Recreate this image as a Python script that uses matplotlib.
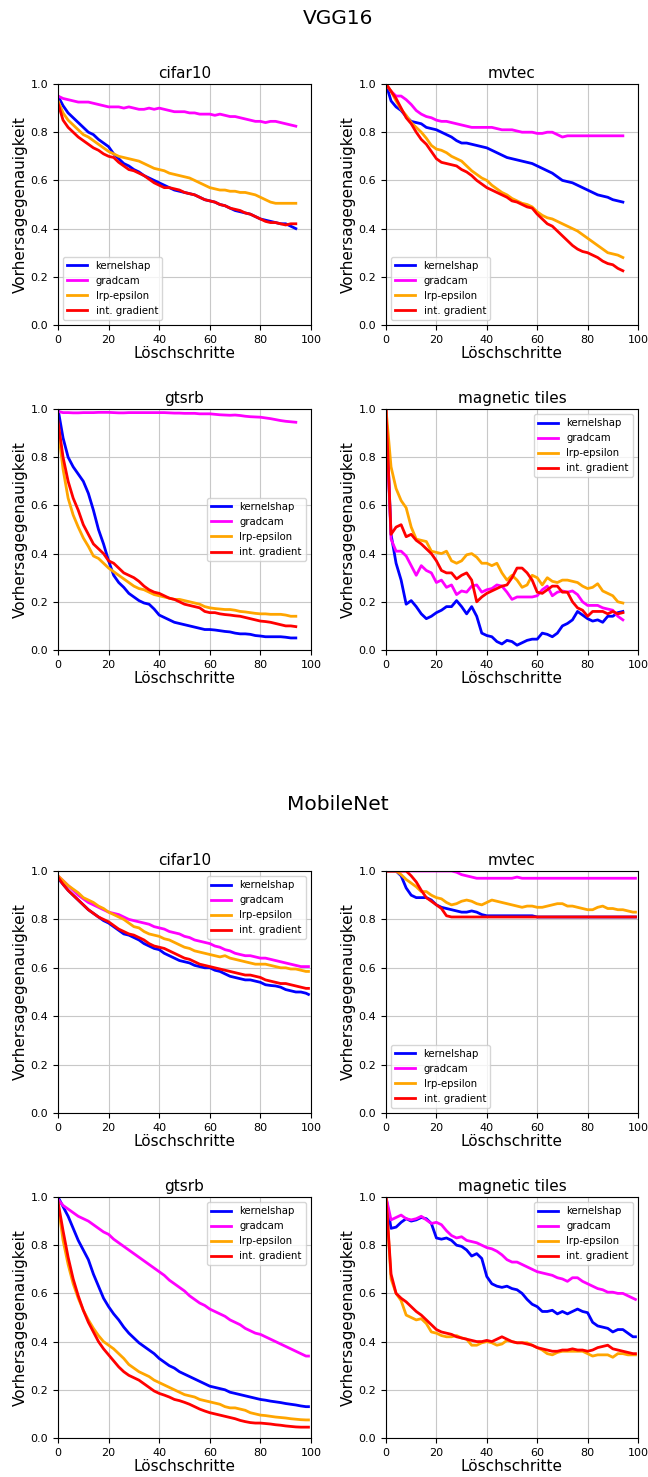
import numpy as np
import matplotlib
matplotlib.use("Agg")
import matplotlib.pyplot as plt

# Löschschritte (every 2nd step)
steps_vgg = list(range(0, 95, 2))
steps_mob = list(range(0, 99, 2)) + [99]

methods = ['kernelshap', 'gradcam', 'lrp-epsilon', 'int. gradient']
colors = ['blue', 'magenta', 'orange', 'red']

# ---------------- VGG16 ----------------
vgg_cifar10_kernelshap = [0.95, 0.91, 0.88, 0.86, 0.84, 0.82, 0.80, 0.79, 0.77, 0.755, 0.74, 0.71, 0.69, 0.67, 0.66, 0.645,
                          0.635, 0.62, 0.61, 0.60, 0.59, 0.58, 0.57, 0.56, 0.555, 0.55, 0.545, 0.54, 0.53, 0.52, 0.515, 0.51,
                          0.50, 0.495, 0.485, 0.475, 0.47, 0.465, 0.46, 0.45, 0.44, 0.435, 0.43, 0.425, 0.42, 0.42, 0.41, 0.40]
vgg_cifar10_gradcam = [0.95, 0.94, 0.935, 0.93, 0.925, 0.925, 0.925, 0.92, 0.915, 0.91, 0.905, 0.905, 0.905, 0.90, 0.905, 0.90,
                       0.895, 0.895, 0.90, 0.895, 0.90, 0.895, 0.89, 0.885, 0.885, 0.885, 0.88, 0.88, 0.875, 0.875, 0.875, 0.87,
                       0.875, 0.87, 0.865, 0.865, 0.86, 0.855, 0.85, 0.845, 0.845, 0.84, 0.845, 0.845, 0.84, 0.835, 0.83, 0.825]
vgg_cifar10_lrp = [0.93, 0.88, 0.85, 0.83, 0.81, 0.79, 0.78, 0.765, 0.75, 0.735, 0.72, 0.71, 0.70, 0.695, 0.69, 0.685,
                   0.68, 0.67, 0.66, 0.65, 0.645, 0.64, 0.63, 0.625, 0.62, 0.615, 0.61, 0.60, 0.59, 0.58, 0.57, 0.565,
                   0.56, 0.56, 0.555, 0.555, 0.55, 0.55, 0.545, 0.54, 0.53, 0.52, 0.51, 0.505, 0.505, 0.505, 0.505, 0.505]
vgg_cifar10_intgrad = [0.92, 0.85, 0.82, 0.80, 0.78, 0.765, 0.75, 0.735, 0.725, 0.71, 0.70, 0.695, 0.675, 0.66, 0.645, 0.64,
                       0.63, 0.62, 0.605, 0.59, 0.58, 0.57, 0.57, 0.565, 0.56, 0.55, 0.545, 0.54, 0.53, 0.52, 0.515, 0.51,
                       0.50, 0.495, 0.485, 0.48, 0.475, 0.465, 0.46, 0.45, 0.44, 0.43, 0.425, 0.425, 0.42, 0.415, 0.42, 0.42]

vgg_mvtec_kernelshap = [1.0, 0.93, 0.905, 0.89, 0.865, 0.845, 0.84, 0.835, 0.82, 0.815, 0.81, 0.80, 0.79, 0.78, 0.765, 0.755,
                        0.755, 0.75, 0.745, 0.74, 0.735, 0.725, 0.715, 0.705, 0.695, 0.69, 0.685, 0.68, 0.675, 0.67, 0.66, 0.65,
                        0.64, 0.63, 0.615, 0.60, 0.595, 0.59, 0.58, 0.57, 0.56, 0.55, 0.54, 0.535, 0.53, 0.52, 0.515, 0.51]
vgg_mvtec_gradcam = [1.0, 0.97, 0.95, 0.95, 0.935, 0.915, 0.89, 0.875, 0.865, 0.86, 0.85, 0.845, 0.845, 0.84, 0.835, 0.83,
                     0.825, 0.82, 0.82, 0.82, 0.82, 0.82, 0.815, 0.81, 0.81, 0.81, 0.805, 0.80, 0.80, 0.80, 0.795, 0.795,
                     0.80, 0.80, 0.79, 0.78, 0.785, 0.785, 0.785, 0.785, 0.785, 0.785, 0.785, 0.785, 0.785, 0.785, 0.785, 0.785]
vgg_mvtec_lrp = [1.0, 0.97, 0.93, 0.895, 0.87, 0.84, 0.82, 0.80, 0.775, 0.745, 0.73, 0.725, 0.715, 0.70, 0.69, 0.68,
                 0.66, 0.64, 0.625, 0.61, 0.60, 0.58, 0.565, 0.55, 0.54, 0.525, 0.515, 0.505, 0.50, 0.49, 0.47, 0.455,
                 0.445, 0.44, 0.43, 0.42, 0.41, 0.40, 0.39, 0.375, 0.36, 0.345, 0.33, 0.315, 0.30, 0.295, 0.29, 0.28]
vgg_mvtec_intgrad = [1.0, 0.97, 0.94, 0.90, 0.86, 0.835, 0.80, 0.77, 0.75, 0.72, 0.69, 0.675, 0.67, 0.665, 0.66, 0.645,
                     0.635, 0.62, 0.60, 0.585, 0.57, 0.56, 0.55, 0.54, 0.53, 0.515, 0.51, 0.50, 0.49, 0.485, 0.46, 0.44,
                     0.42, 0.41, 0.39, 0.37, 0.35, 0.33, 0.315, 0.305, 0.30, 0.29, 0.28, 0.265, 0.255, 0.25, 0.235, 0.225]

vgg_gtsrb_kernelshap = [1.0, 0.88, 0.80, 0.76, 0.73, 0.70, 0.65, 0.58, 0.50, 0.44, 0.37, 0.31, 0.28, 0.26, 0.235, 0.22,
                        0.205, 0.195, 0.19, 0.17, 0.145, 0.135, 0.125, 0.115, 0.11, 0.105, 0.10, 0.095, 0.09, 0.085, 0.085, 0.083,
                        0.08, 0.077, 0.075, 0.07, 0.067, 0.067, 0.065, 0.06, 0.058, 0.055, 0.055, 0.055, 0.055, 0.053, 0.05, 0.05]
vgg_gtsrb_gradcam = [0.99, 0.985, 0.985, 0.984, 0.984, 0.985, 0.985, 0.985, 0.986, 0.986, 0.986, 0.985, 0.984, 0.984, 0.985, 0.985,
                     0.985, 0.985, 0.985, 0.985, 0.985, 0.985, 0.984, 0.983, 0.983, 0.982, 0.982, 0.982, 0.98, 0.98, 0.98, 0.978,
                     0.976, 0.975, 0.974, 0.975, 0.973, 0.97, 0.968, 0.967, 0.966, 0.963, 0.96, 0.956, 0.952, 0.949, 0.947, 0.945]
vgg_gtsrb_lrp = [0.92, 0.75, 0.63, 0.56, 0.51, 0.465, 0.43, 0.39, 0.38, 0.36, 0.34, 0.325, 0.31, 0.295, 0.28, 0.265,
                 0.255, 0.25, 0.24, 0.23, 0.225, 0.22, 0.215, 0.21, 0.21, 0.205, 0.20, 0.195, 0.19, 0.18, 0.175, 0.172,
                 0.17, 0.168, 0.168, 0.165, 0.16, 0.158, 0.155, 0.152, 0.15, 0.15, 0.148, 0.148, 0.148, 0.145, 0.14, 0.14]
vgg_gtsrb_intgrad = [0.95, 0.80, 0.70, 0.63, 0.58, 0.52, 0.48, 0.44, 0.42, 0.40, 0.37, 0.36, 0.34, 0.32, 0.31, 0.30,
                     0.285, 0.265, 0.25, 0.24, 0.235, 0.225, 0.215, 0.21, 0.20, 0.19, 0.185, 0.18, 0.175, 0.16, 0.155, 0.155,
                     0.15, 0.147, 0.145, 0.142, 0.14, 0.135, 0.13, 0.125, 0.12, 0.118, 0.115, 0.11, 0.105, 0.10, 0.10, 0.097]

vgg_tiles_kernelshap = [1.0, 0.48, 0.36, 0.29, 0.19, 0.205, 0.18, 0.15, 0.13, 0.14, 0.155, 0.165, 0.18, 0.18, 0.205, 0.18,
                        0.15, 0.18, 0.14, 0.07, 0.06, 0.055, 0.035, 0.025, 0.04, 0.035, 0.02, 0.03, 0.04, 0.045, 0.045, 0.07,
                        0.065, 0.055, 0.07, 0.10, 0.11, 0.125, 0.16, 0.145, 0.13, 0.12, 0.125, 0.115, 0.14, 0.14, 0.155, 0.16]
vgg_tiles_gradcam = [1.0, 0.46, 0.41, 0.41, 0.39, 0.35, 0.31, 0.35, 0.33, 0.32, 0.28, 0.29, 0.26, 0.27, 0.23, 0.245,
                     0.24, 0.265, 0.27, 0.24, 0.25, 0.255, 0.27, 0.265, 0.24, 0.21, 0.22, 0.22, 0.22, 0.22, 0.225, 0.25,
                     0.265, 0.225, 0.24, 0.245, 0.24, 0.245, 0.23, 0.20, 0.185, 0.185, 0.185, 0.175, 0.17, 0.165, 0.14, 0.125]
vgg_tiles_lrp = [1.0, 0.76, 0.67, 0.62, 0.59, 0.51, 0.46, 0.455, 0.45, 0.41, 0.405, 0.40, 0.41, 0.37, 0.36, 0.37,
                 0.395, 0.40, 0.385, 0.36, 0.36, 0.35, 0.36, 0.32, 0.29, 0.31, 0.29, 0.26, 0.27, 0.31, 0.30, 0.27,
                 0.30, 0.285, 0.28, 0.29, 0.29, 0.285, 0.28, 0.265, 0.255, 0.26, 0.275, 0.245, 0.235, 0.225, 0.20, 0.195]
vgg_tiles_intgrad = [1.0, 0.48, 0.51, 0.52, 0.47, 0.48, 0.455, 0.44, 0.42, 0.40, 0.37, 0.33, 0.32, 0.32, 0.295, 0.31,
                     0.32, 0.29, 0.20, 0.22, 0.235, 0.245, 0.255, 0.265, 0.27, 0.30, 0.34, 0.34, 0.32, 0.29, 0.24, 0.235,
                     0.25, 0.265, 0.265, 0.24, 0.24, 0.20, 0.175, 0.165, 0.14, 0.16, 0.16, 0.16, 0.15, 0.16, 0.15, 0.155]

# ---------------- MobileNet ----------------
mob_cifar10_kernelshap = [0.97, 0.945, 0.92, 0.90, 0.88, 0.86, 0.84, 0.825, 0.81, 0.795, 0.785, 0.77, 0.755, 0.74, 0.735, 0.725,
                          0.715, 0.70, 0.69, 0.68, 0.675, 0.66, 0.65, 0.64, 0.63, 0.625, 0.62, 0.61, 0.605, 0.60, 0.60, 0.59,
                          0.585, 0.575, 0.565, 0.56, 0.555, 0.55, 0.55, 0.545, 0.54, 0.53, 0.527, 0.525, 0.52, 0.51, 0.505, 0.50,
                          0.50, 0.495, 0.49]
mob_cifar10_gradcam = [0.98, 0.96, 0.94, 0.92, 0.90, 0.885, 0.87, 0.86, 0.85, 0.84, 0.83, 0.825, 0.82, 0.81, 0.80, 0.795,
                       0.79, 0.785, 0.78, 0.77, 0.765, 0.76, 0.75, 0.745, 0.74, 0.73, 0.725, 0.715, 0.71, 0.705, 0.70, 0.69,
                       0.685, 0.675, 0.67, 0.66, 0.655, 0.65, 0.65, 0.645, 0.64, 0.64, 0.635, 0.63, 0.625, 0.62, 0.615, 0.61,
                       0.605, 0.605, 0.605]
mob_cifar10_lrp = [0.98, 0.96, 0.94, 0.925, 0.91, 0.89, 0.88, 0.87, 0.855, 0.845, 0.83, 0.82, 0.81, 0.80, 0.785, 0.77,
                   0.765, 0.75, 0.74, 0.735, 0.73, 0.72, 0.715, 0.705, 0.695, 0.685, 0.68, 0.67, 0.665, 0.66, 0.655, 0.65,
                   0.645, 0.65, 0.64, 0.635, 0.63, 0.625, 0.62, 0.615, 0.615, 0.615, 0.61, 0.605, 0.60, 0.60, 0.595, 0.595,
                   0.59, 0.585, 0.585]
mob_cifar10_intgrad = [0.975, 0.945, 0.92, 0.90, 0.88, 0.86, 0.84, 0.825, 0.81, 0.80, 0.79, 0.775, 0.76, 0.75, 0.74, 0.735,
                       0.725, 0.715, 0.70, 0.69, 0.685, 0.68, 0.67, 0.66, 0.65, 0.64, 0.635, 0.625, 0.615, 0.61, 0.605, 0.60,
                       0.595, 0.59, 0.585, 0.58, 0.575, 0.57, 0.57, 0.565, 0.56, 0.55, 0.545, 0.54, 0.535, 0.535, 0.53, 0.525,
                       0.52, 0.515, 0.515]

mob_mvtec_kernelshap = [1.0, 1.0, 1.0, 0.98, 0.93, 0.90, 0.89, 0.89, 0.89, 0.88, 0.86, 0.85, 0.845, 0.84, 0.835, 0.83,
                        0.83, 0.835, 0.83, 0.82, 0.815, 0.815, 0.815, 0.815, 0.815, 0.815, 0.815, 0.815, 0.815, 0.815, 0.81, 0.81,
                        0.81, 0.81, 0.81, 0.81, 0.81, 0.81, 0.81, 0.81, 0.81, 0.81, 0.81, 0.81, 0.81, 0.81, 0.81, 0.81,
                        0.81, 0.81, 0.81]
mob_mvtec_gradcam = [1.0, 1.0, 1.0, 1.0, 1.0, 1.0, 1.0, 1.0, 1.0, 1.0, 1.0, 1.0, 1.0, 1.0, 0.995, 0.985,
                     0.98, 0.975, 0.97, 0.97, 0.97, 0.97, 0.97, 0.97, 0.97, 0.97, 0.975, 0.97, 0.97, 0.97, 0.97, 0.97,
                     0.97, 0.97, 0.97, 0.97, 0.97, 0.97, 0.97, 0.97, 0.97, 0.97, 0.97, 0.97, 0.97, 0.97, 0.97, 0.97,
                     0.97, 0.97, 0.97]
mob_mvtec_lrp = [1.0, 1.0, 1.0, 0.985, 0.965, 0.95, 0.935, 0.915, 0.915, 0.90, 0.89, 0.885, 0.87, 0.86, 0.865, 0.875,
                 0.88, 0.875, 0.865, 0.86, 0.87, 0.88, 0.875, 0.87, 0.865, 0.86, 0.855, 0.85, 0.855, 0.855, 0.85, 0.85,
                 0.855, 0.86, 0.865, 0.865, 0.855, 0.855, 0.85, 0.845, 0.84, 0.84, 0.85, 0.855, 0.845, 0.845, 0.84, 0.84,
                 0.835, 0.83, 0.83]
mob_mvtec_intgrad = [1.0, 1.0, 1.0, 1.0, 1.0, 0.98, 0.955, 0.92, 0.89, 0.875, 0.86, 0.845, 0.815, 0.81, 0.81, 0.81,
                     0.81, 0.81, 0.81, 0.81, 0.81, 0.81, 0.81, 0.81, 0.81, 0.81, 0.81, 0.81, 0.81, 0.81, 0.81, 0.81,
                     0.81, 0.81, 0.81, 0.81, 0.81, 0.81, 0.81, 0.81, 0.81, 0.81, 0.81, 0.81, 0.81, 0.81, 0.81, 0.81,
                     0.81, 0.81, 0.81]

mob_gtsrb_kernelshap = [1.0, 0.96, 0.92, 0.87, 0.82, 0.78, 0.74, 0.68, 0.63, 0.58, 0.545, 0.515, 0.49, 0.46, 0.435, 0.415,
                        0.395, 0.38, 0.365, 0.35, 0.33, 0.315, 0.30, 0.29, 0.275, 0.265, 0.255, 0.245, 0.235, 0.225, 0.215, 0.21,
                        0.205, 0.20, 0.19, 0.185, 0.18, 0.175, 0.17, 0.165, 0.16, 0.157, 0.153, 0.15, 0.147, 0.143, 0.14, 0.137,
                        0.133, 0.13, 0.13]
mob_gtsrb_gradcam = [0.99, 0.965, 0.95, 0.935, 0.92, 0.91, 0.90, 0.885, 0.87, 0.855, 0.845, 0.825, 0.81, 0.795, 0.78, 0.765,
                     0.75, 0.735, 0.72, 0.705, 0.69, 0.675, 0.655, 0.64, 0.625, 0.61, 0.59, 0.575, 0.56, 0.55, 0.535, 0.525,
                     0.515, 0.505, 0.49, 0.48, 0.47, 0.455, 0.445, 0.435, 0.43, 0.42, 0.41, 0.40, 0.39, 0.38, 0.37, 0.36,
                     0.35, 0.34, 0.34]
mob_gtsrb_lrp = [0.97, 0.82, 0.72, 0.64, 0.58, 0.53, 0.49, 0.455, 0.425, 0.40, 0.385, 0.37, 0.35, 0.33, 0.305, 0.29,
                 0.275, 0.265, 0.255, 0.24, 0.23, 0.22, 0.21, 0.20, 0.19, 0.18, 0.175, 0.17, 0.16, 0.155, 0.15, 0.145,
                 0.14, 0.13, 0.125, 0.125, 0.12, 0.115, 0.105, 0.10, 0.095, 0.093, 0.09, 0.087, 0.085, 0.083, 0.08, 0.078,
                 0.076, 0.075, 0.075]
mob_gtsrb_intgrad = [0.98, 0.86, 0.75, 0.66, 0.59, 0.53, 0.48, 0.44, 0.40, 0.37, 0.345, 0.32, 0.295, 0.275, 0.26, 0.25,
                     0.24, 0.225, 0.21, 0.195, 0.185, 0.178, 0.17, 0.16, 0.155, 0.148, 0.14, 0.13, 0.12, 0.112, 0.105, 0.10,
                     0.095, 0.09, 0.085, 0.08, 0.073, 0.068, 0.064, 0.062, 0.062, 0.06, 0.058, 0.055, 0.053, 0.05, 0.048, 0.046,
                     0.045, 0.045, 0.045]

mob_tiles_kernelshap = [1.0, 0.87, 0.875, 0.895, 0.91, 0.90, 0.905, 0.915, 0.91, 0.89, 0.83, 0.825, 0.83, 0.82, 0.80, 0.795,
                        0.78, 0.755, 0.765, 0.745, 0.67, 0.64, 0.63, 0.625, 0.63, 0.62, 0.615, 0.60, 0.575, 0.555, 0.545, 0.525,
                        0.525, 0.53, 0.515, 0.525, 0.515, 0.525, 0.535, 0.525, 0.52, 0.48, 0.465, 0.46, 0.455, 0.44, 0.45, 0.45,
                        0.435, 0.42, 0.42]
mob_tiles_gradcam = [1.0, 0.905, 0.915, 0.925, 0.91, 0.905, 0.91, 0.92, 0.905, 0.89, 0.895, 0.885, 0.86, 0.84, 0.83, 0.835,
                     0.82, 0.815, 0.81, 0.80, 0.79, 0.785, 0.775, 0.76, 0.74, 0.73, 0.73, 0.72, 0.71, 0.70, 0.69, 0.685,
                     0.68, 0.675, 0.665, 0.66, 0.65, 0.665, 0.665, 0.65, 0.64, 0.63, 0.62, 0.615, 0.605, 0.605, 0.60, 0.60,
                     0.59, 0.58, 0.575]
mob_tiles_lrp = [1.0, 0.66, 0.60, 0.57, 0.51, 0.50, 0.49, 0.495, 0.475, 0.44, 0.435, 0.425, 0.42, 0.42, 0.425, 0.415,
                 0.41, 0.385, 0.385, 0.395, 0.40, 0.395, 0.385, 0.39, 0.405, 0.40, 0.395, 0.395, 0.395, 0.385, 0.375, 0.365,
                 0.35, 0.345, 0.355, 0.36, 0.36, 0.36, 0.36, 0.36, 0.35, 0.34, 0.345, 0.345, 0.345, 0.335, 0.35, 0.35,
                 0.345, 0.345, 0.345]
mob_tiles_intgrad = [1.0, 0.68, 0.60, 0.58, 0.565, 0.545, 0.525, 0.51, 0.49, 0.47, 0.45, 0.44, 0.435, 0.43, 0.42, 0.415,
                     0.41, 0.405, 0.40, 0.40, 0.405, 0.40, 0.41, 0.42, 0.41, 0.40, 0.395, 0.395, 0.39, 0.385, 0.375, 0.37,
                     0.365, 0.36, 0.36, 0.365, 0.365, 0.37, 0.365, 0.365, 0.36, 0.365, 0.375, 0.38, 0.385, 0.37, 0.365, 0.36,
                     0.355, 0.35, 0.35]

datasets = ['cifar10', 'mvtec', 'gtsrb', 'magnetic tiles']

vgg_data = {
    'cifar10': [vgg_cifar10_kernelshap, vgg_cifar10_gradcam, vgg_cifar10_lrp, vgg_cifar10_intgrad],
    'mvtec': [vgg_mvtec_kernelshap, vgg_mvtec_gradcam, vgg_mvtec_lrp, vgg_mvtec_intgrad],
    'gtsrb': [vgg_gtsrb_kernelshap, vgg_gtsrb_gradcam, vgg_gtsrb_lrp, vgg_gtsrb_intgrad],
    'magnetic tiles': [vgg_tiles_kernelshap, vgg_tiles_gradcam, vgg_tiles_lrp, vgg_tiles_intgrad],
}
mob_data = {
    'cifar10': [mob_cifar10_kernelshap, mob_cifar10_gradcam, mob_cifar10_lrp, mob_cifar10_intgrad],
    'mvtec': [mob_mvtec_kernelshap, mob_mvtec_gradcam, mob_mvtec_lrp, mob_mvtec_intgrad],
    'gtsrb': [mob_gtsrb_kernelshap, mob_gtsrb_gradcam, mob_gtsrb_lrp, mob_gtsrb_intgrad],
    'magnetic tiles': [mob_tiles_kernelshap, mob_tiles_gradcam, mob_tiles_lrp, mob_tiles_intgrad],
}

vgg_legend = {'cifar10': 'lower left', 'mvtec': 'lower left', 'gtsrb': 'center right', 'magnetic tiles': 'upper right'}
mob_legend = {'cifar10': 'upper right', 'mvtec': 'lower left', 'gtsrb': 'upper right', 'magnetic tiles': 'upper right'}

W, H = 648, 1477
fig = plt.figure(figsize=(W / 100, H / 100), dpi=100)

cols_px = [(58, 311), (386, 638)]
rows_px = [(84, 325), (409, 650), (871, 1113), (1197, 1438)]


def add_panel(left, right, top, bottom, name, steps, series, legend_loc):
    ax = fig.add_axes([left / W, 1 - bottom / H, (right - left) / W, (bottom - top) / H])
    for vals, lab, col in zip(series, methods, colors):
        ax.plot(steps, vals, color=col, lw=2, label=lab)
    ax.set_xlim(0, 100)
    ax.set_ylim(0, 1)
    ax.set_xticks(np.arange(0, 101, 20))
    ax.set_yticks(np.arange(0, 1.01, 0.2))
    ax.tick_params(labelsize=8)
    ax.grid(True, color='#c8c8c8', lw=0.8)
    ax.set_title(name, fontsize=11, pad=4)
    ax.set_xlabel('Löschschritte', fontsize=11, labelpad=1)
    ax.set_ylabel('Vorhersagegenauigkeit', fontsize=11, labelpad=2)
    ax.legend(loc=legend_loc, fontsize=7.3)
    return ax


for i, name in enumerate(datasets):
    r, c = divmod(i, 2)
    add_panel(cols_px[c][0], cols_px[c][1], rows_px[r][0], rows_px[r][1],
              name, steps_vgg, vgg_data[name], vgg_legend[name])
    add_panel(cols_px[c][0], cols_px[c][1], rows_px[r + 2][0], rows_px[r + 2][1],
              name, steps_mob, mob_data[name], mob_legend[name])

fig.text(338 / W, 1 - 18 / H, 'VGG16', ha='center', va='center', fontsize=14.5)
fig.text(338 / W, 1 - 804 / H, 'MobileNet', ha='center', va='center', fontsize=14.5)

fig.savefig('out.png', dpi=100)
